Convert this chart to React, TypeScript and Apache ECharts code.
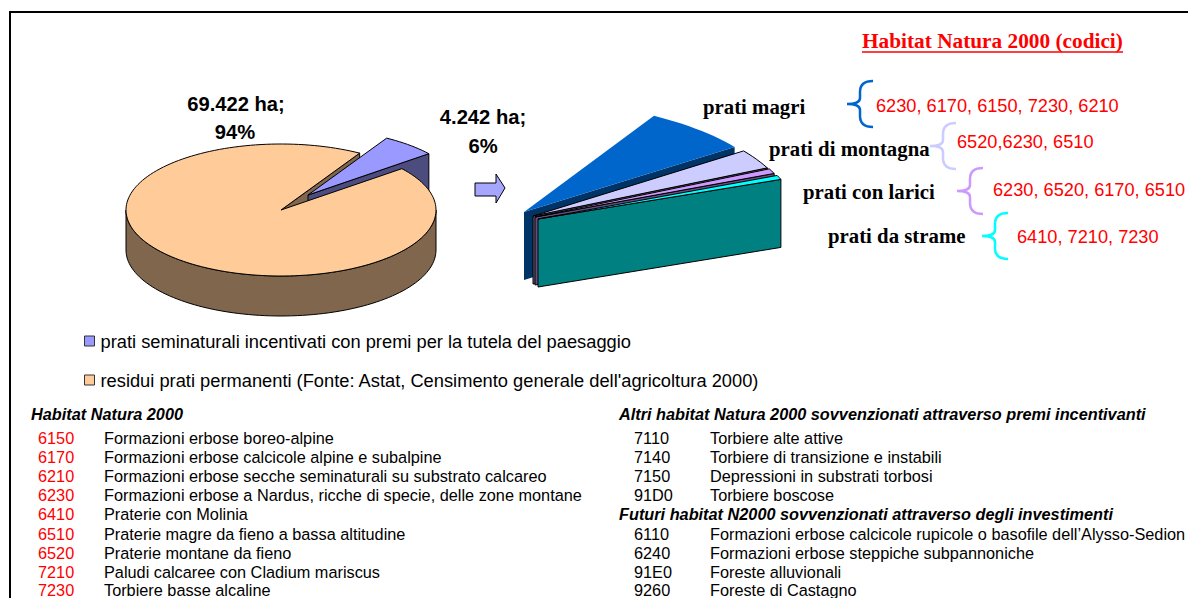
import React, { useEffect, useRef } from "react";
import * as echarts from "echarts";

// ---------- data ----------
const pieNames = [
  "prati seminaturali incentivati con premi per la tutela del paesaggio",
  "residui prati permanenti (Fonte: Astat, Censimento generale dell'agricoltura 2000)",
];
const pieHectares = [4242, 69422];
const pieLabels = [
  ["4.242 ha;", "6%"],
  ["69.422 ha;", "94%"],
];
const fanNames = ["prati magri", "prati di montagna", "prati con larici", "prati da strame"];
// estimated angular width of each slice of the enlarged sector, in degrees
const fanDegrees = [24.1, 10.2, 2.6, 2.2];
const fanTopColors = ["#0066CC", "#CCCCFF", "#CC99FF", "#00FFFF"];
const fanWallColors = ["#003366", "#666680", "#664C80", "#008080"];
const fanCodes = [
  "6230, 6170, 6150, 7230, 6210",
  "6520,6230, 6510",
  "6230, 6520, 6170, 6510",
  "6410, 7210, 7230",
];
const habitatCodes = ["6150", "6170", "6210", "6230", "6410", "6510", "6520", "7210", "7230"];
const habitatNames = [
  "Formazioni erbose boreo-alpine",
  "Formazioni erbose calcicole alpine e subalpine",
  "Formazioni erbose secche seminaturali su substrato calcareo",
  "Formazioni erbose a Nardus, ricche di specie, delle zone montane",
  "Praterie con Molinia",
  "Praterie magre da fieno a bassa altitudine",
  "Praterie montane da fieno",
  "Paludi calcaree con Cladium mariscus",
  "Torbiere basse alcaline",
];
const otherCodes = ["7110", "7140", "7150", "91D0"];
const otherNames = [
  "Torbiere alte attive",
  "Torbiere di transizione e instabili",
  "Depressioni in substrati torbosi",
  "Torbiere boscose",
];
const futureCodes = ["6110", "6240", "91E0", "9260"];
const futureNames = [
  "Formazioni erbose calcicole rupicole o basofile dell\u2019Alysso-Sedion",
  "Formazioni erbose steppiche subpannoniche",
  "Foreste alluvionali",
  "Foreste di Castagno",
];
const titleText = "Habitat Natura 2000 (codici)";
const headerLeft = "Habitat Natura 2000";
const headerOther = "Altri habitat Natura 2000 sovvenzionati attraverso premi incentivanti";
const headerFuture = "Futuri habitat N2000 sovvenzionati attraverso degli investimenti";

// ---------- geometry helpers ----------
const SANS = '"Liberation Sans", Arial, sans-serif';
const SERIF = '"Liberation Serif", "Times New Roman", serif';
const TABLE_SIZE = 16.3;
const rad = (d: number) => (d * Math.PI) / 180;

type Disc = { cx: number; cy: number; a: number; b: number; depth: number };
const pt = (d: Disc, deg: number, dz = 0): number[] => [
  d.cx + d.a * Math.cos(rad(deg)),
  d.cy - d.b * Math.sin(rad(deg)) + dz,
];
const arc = (d: Disc, from: number, to: number, dz = 0): number[][] => {
  const n = Math.max(2, Math.ceil(Math.abs(to - from) / 2));
  const out: number[][] = [];
  for (let i = 0; i <= n; i++) out.push(pt(d, from + ((to - from) * i) / n, dz));
  return out;
};
const poly = (points: number[][], fill: string, stroke?: string) => ({
  type: "polygon",
  shape: { points },
  style: { fill, stroke: stroke || "none", lineWidth: stroke ? 1 : 0 },
});
const cutWall = (d: Disc, deg: number) => [
  [d.cx, d.cy],
  pt(d, deg),
  pt(d, deg, d.depth),
  [d.cx, d.cy + d.depth],
];

const PIE = { cx: 281, cy: 210, a: 155, b: 66, depth: 40 };
const PIE_START = 59.5;
const BLUE_OFFSET = [27, -15];
const pieTotal = pieHectares[0] + pieHectares[1];

// each slice of the enlarged sector is pulled out to its own apex
const FAN_START = 60;
const fanApex = [
  [524, 212],
  [533, 216],
  [535, 217],
  [538, 219],
];

const customBase = { type: "custom", coordinateSystem: "none", silent: true, clip: false };

const buildSeries = () => {
  const bluePart = (360 * pieHectares[0]) / pieTotal;
  const blueEnd = PIE_START - bluePart;
  const blueDisc = { ...PIE, cx: PIE.cx + BLUE_OFFSET[0], cy: PIE.cy + BLUE_OFFSET[1] };
  const series: any[] = [
    {
      ...customBase,
      name: "cut",
      data: [[pieHectares[1]]],
      renderItem: () => ({
        type: "group",
        children: [poly(cutWall(PIE, PIE_START), "#7F664C", "#000")],
      }),
    },
    {
      ...customBase,
      name: pieNames[0],
      itemStyle: { color: "#9999FF" },
      data: [[pieHectares[0]]],
      renderItem: () => ({
        type: "group",
        children: [
          poly(cutWall(blueDisc, blueEnd), "#4C4C7F", "#000"),
          poly([[blueDisc.cx, blueDisc.cy], ...arc(blueDisc, PIE_START, blueEnd)], "#9999FF", "#000"),
        ],
      }),
    },
    {
      ...customBase,
      name: pieNames[1],
      itemStyle: { color: "#FFCC99" },
      data: [[pieHectares[1]]],
      renderItem: () => ({
        type: "group",
        children: [
          poly([...arc(PIE, 180, 360), ...arc(PIE, 360, 180, PIE.depth)], "#7F664C", "#000"),
          poly([[PIE.cx, PIE.cy], ...arc(PIE, PIE_START, blueEnd + 360)], "#FFCC99", "#000"),
        ],
      }),
    },
  ];
  let from = FAN_START;
  fanDegrees.forEach((deg, i) => {
    const start = from;
    const end = from - deg;
    from = end;
    const disc = { cx: fanApex[i][0], cy: fanApex[i][1], a: 260, b: 111, depth: 68 };
    const stroke = i === 0 ? undefined : "#000";
    series.push({
      ...customBase,
      name: fanNames[i],
      data: [[deg]],
      renderItem: () => ({
        type: "group",
        children: [
          poly(cutWall(disc, end), fanWallColors[i], stroke),
          poly([[disc.cx, disc.cy], ...arc(disc, start, end)], fanTopColors[i], stroke),
        ],
      }),
    });
  });
  return series;
};

const txt = (
  text: string,
  x: number,
  y: number,
  size: number,
  opts: { family?: string; weight?: string; italic?: boolean; fill?: string; align?: string } = {}
) => ({
  type: "text",
  x,
  y,
  silent: true,
  style: {
    text,
    fontSize: size,
    fontFamily: opts.family || SANS,
    fontWeight: opts.weight || "normal",
    fontStyle: opts.italic ? "italic" : "normal",
    fill: opts.fill || "#000",
    textAlign: opts.align || "left",
    textVerticalAlign: "middle",
  },
});

const buildGraphics = () => {
  const out: any[] = [];
  // frame
  out.push({
    type: "polyline",
    silent: true,
    shape: { points: [[10, 598], [10, 12], [1188, 12]] },
    style: { stroke: "#000", lineWidth: 2, fill: "none" },
  });
  // pie labels
  out.push(txt(pieLabels[1][0], 236, 104, 20.2, { weight: "bold", align: "center" }));
  out.push(txt(pieLabels[1][1], 235, 132, 20.2, { weight: "bold", align: "center" }));
  out.push(txt(pieLabels[0][0], 483, 117, 20.2, { weight: "bold", align: "center" }));
  out.push(txt(pieLabels[0][1], 483, 146, 20.2, { weight: "bold", align: "center" }));
  // arrow
  out.push({
    type: "polygon",
    silent: true,
    shape: {
      points: [[475, 183], [496, 183], [496, 174], [505, 188], [496, 203], [496, 196], [475, 196]],
    },
    style: { fill: "#A6A6FF", stroke: "#000", lineWidth: 1 },
  });
  // title
  out.push(txt(titleText, 862, 41, 21.3, { family: SERIF, weight: "bold", fill: "#FF0000" }));
  out.push({
    type: "line",
    silent: true,
    shape: { x1: 862, y1: 52, x2: 1123, y2: 52 },
    style: { stroke: "#FF0000", lineWidth: 1.5 },
  });
  // fan labels, braces and codes
  const nameX = [703, 769, 803, 828];
  const nameY = [106, 148, 191, 235];
  const codeX = [876, 957, 993, 1017];
  const codeY = [106, 142, 190, 237];
  const braceX = [847, 930, 957, 982];
  const braceY = [81, 123, 168, 213];
  fanNames.forEach((n, i) => {
    out.push(txt(n, nameX[i], nameY[i], 20.8, { family: SERIF, weight: "bold" }));
    out.push(txt(fanCodes[i], codeX[i], codeY[i], 18.2, { fill: "#FF0000" }));
    out.push({
      type: "brace",
      silent: true,
      x: braceX[i],
      y: braceY[i],
      style: { fill: "none", stroke: fanTopColors[i], lineWidth: 2.5 },
    });
  });
  // left table
  out.push(txt(headerLeft, 31, 414, TABLE_SIZE, { weight: "bold", italic: true }));
  habitatCodes.forEach((c, i) => {
    const y = [438, 457, 476, 495, 514, 534, 553, 572, 589.5][i];
    out.push(txt(c, 38, y, TABLE_SIZE, { fill: "#FF0000" }));
    out.push(txt(habitatNames[i], 104, y, TABLE_SIZE));
  });
  // right table
  out.push(txt(headerOther, 619, 414, TABLE_SIZE, { weight: "bold", italic: true }));
  otherCodes.forEach((c, i) => {
    const y = [438, 457, 476, 495][i];
    out.push(txt(c, 634, y, TABLE_SIZE));
    out.push(txt(otherNames[i], 710, y, TABLE_SIZE));
  });
  out.push(txt(headerFuture, 619, 514, TABLE_SIZE, { weight: "bold", italic: true }));
  futureCodes.forEach((c, i) => {
    const y = [534, 553, 572, 589.5][i];
    out.push(txt(c, 634, y, TABLE_SIZE));
    out.push(txt(futureNames[i], 710, y, TABLE_SIZE));
  });
  return out;
};

echarts.graphic.registerShape(
  "brace",
  echarts.graphic.extendPath(
    "M26,0 Q13,0 13,11 L13,17 Q13,23 0,23 Q13,23 13,29 L13,35 Q13,46 26,46",
    {} as any
  ) as any
);

export default function App() {
  const ref = useRef<HTMLDivElement>(null);
  useEffect(() => {
    const chart = echarts.init(ref.current!, undefined, { renderer: "svg" });
    const legendCommon = {
      orient: "horizontal",
      left: 84,
      icon: "rect",
      itemWidth: 10,
      itemHeight: 10,
      selectedMode: false,
      textStyle: { fontFamily: SANS, fontSize: 18.3, color: "#000", padding: [0, 0, 4, 1] },
      padding: 0,
    };
    chart.setOption({
      animation: false,
      backgroundColor: "#fff",
      legend: [
        {
          ...legendCommon,
          top: 332,
          data: [{ name: pieNames[0], itemStyle: { color: "#9999FF", borderColor: "#333", borderWidth: 1 } }],
        },
        {
          ...legendCommon,
          top: 371,
          data: [{ name: pieNames[1], itemStyle: { color: "#FFCC99", borderColor: "#333", borderWidth: 1 } }],
        },
      ],
      graphic: { elements: buildGraphics() },
      series: buildSeries(),
    });
    return () => chart.dispose();
  }, []);
  return (
    <div
      ref={ref}
      style={{ position: "absolute", left: 0, top: 0, width: 1188, height: 598 }}
    />
  );
}
